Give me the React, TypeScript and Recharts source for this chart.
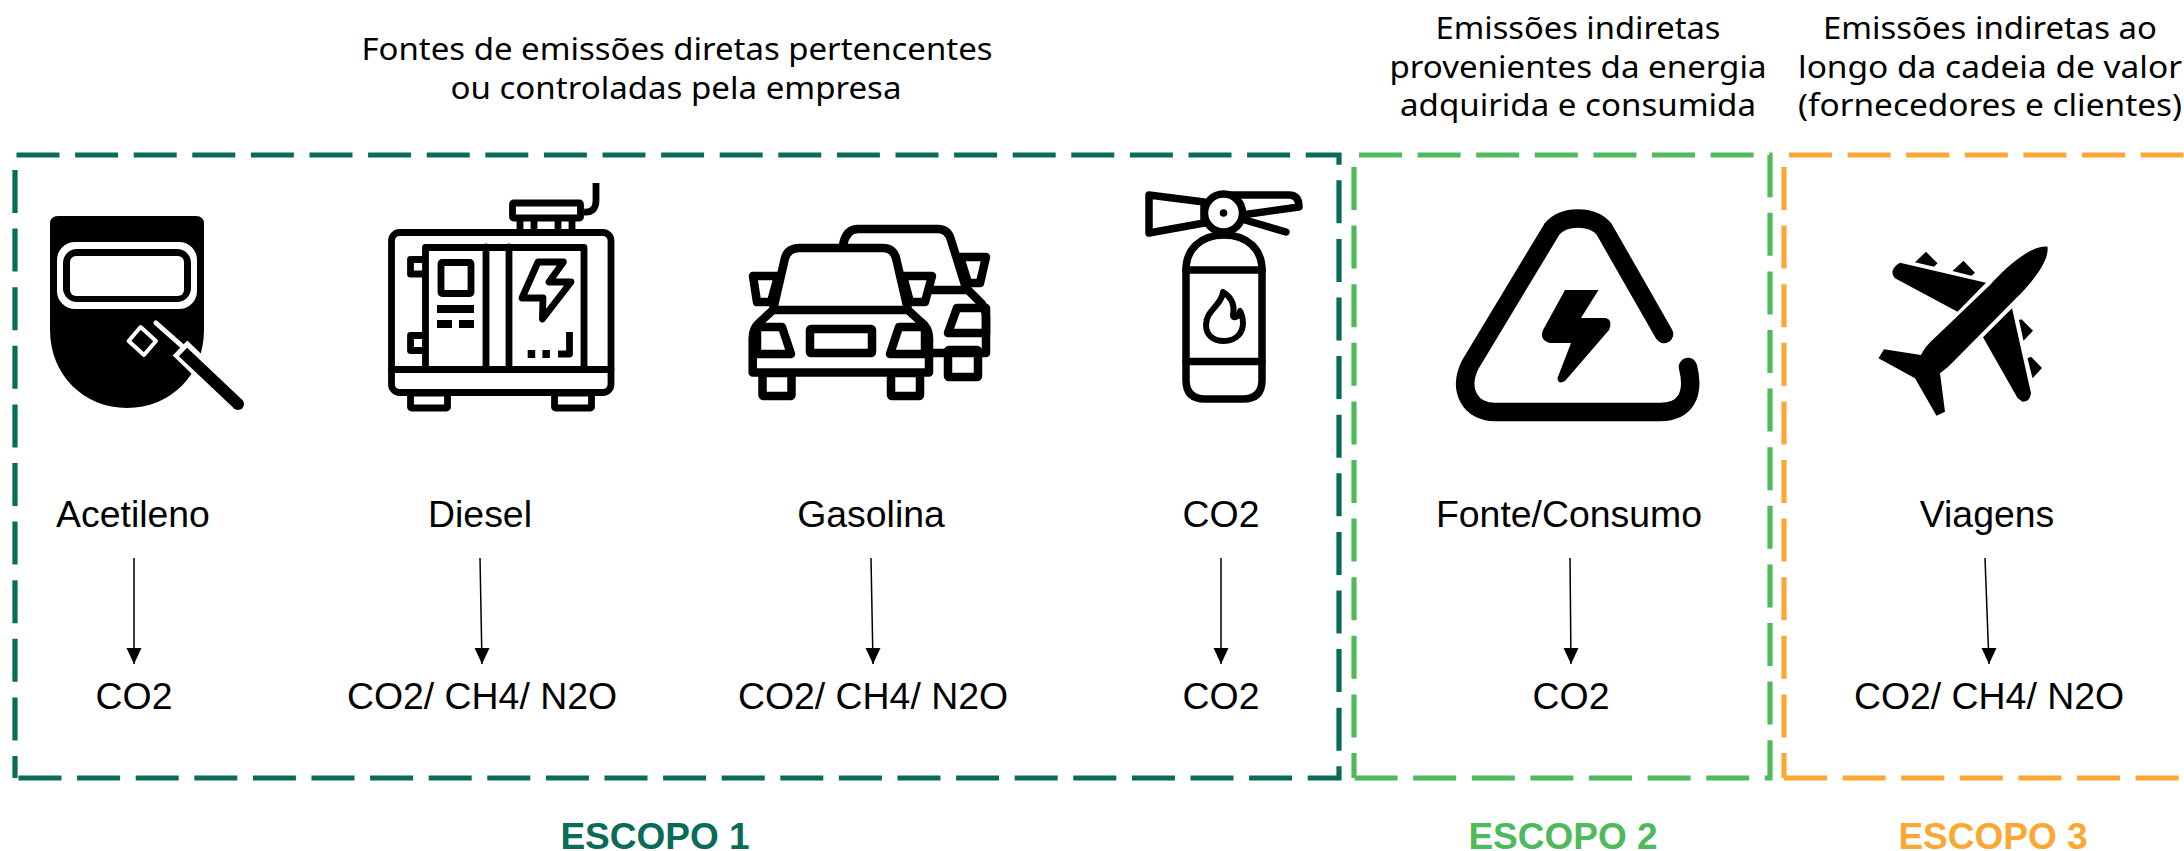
import React from "react";
import { ScatterChart, Scatter, XAxis, YAxis } from "recharts";

const W = 2184;
const H = 851;
const GREEN_DARK = "#0A6B58";
const GREEN = "#4FBA5C";
const ORANGE = "#FBA733";
const DASH = "43 15.6";

// categories
const sources = ["Acetileno", "Diesel", "Gasolina", "CO2", "Fonte/Consumo", "Viagens"];
const gases = ["CO2", "CO2/ CH4/ N2O", "CO2/ CH4/ N2O", "CO2", "CO2", "CO2/ CH4/ N2O"];
const scopes = ["ESCOPO 1", "ESCOPO 2", "ESCOPO 3"];
const scopeX = [655, 1563, 1993];
const sourceX = [133, 480, 871, 1221, 1569, 1987];
const gasX = [134, 482, 873, 1221, 1571, 1989];
const arrowStartX = [134, 480, 871, 1221, 1570, 1985];
const arrowEndX = [134, 482, 873, 1221, 1571, 1989];
const iconNames = ["mask", "generator", "cars", "extinguisher", "energy", "plane"];
const headingLines = [
  "Fontes de emissões diretas pertencentes",
  "ou controladas pela empresa",
  "Emissões indiretas",
  "provenientes da energia",
  "adquirida e consumida",
  "Emissões indiretas ao",
  "longo da cadeia de valor",
  "(fornecedores e clientes)",
];
const headingX = [677, 676, 1578, 1578, 1578, 1990, 1990, 1990];
const headingY = [60, 99, 39, 78, 116, 39, 78, 116];
const headingWidth = [631, 451, 285, 377, 356, 334, 384, 384];

const scope1Frame = [
  { x: 16.5, y: 155 }, { x: 1339, y: 155 }, { x: 1339, y: 778 }, { x: 15, y: 778 },
];
const scope1Left = [{ x: 15, y: 778 }, { x: 15, y: 155 }];
const scope2Frame = [
  { x: 1359, y: 155 }, { x: 1770, y: 155 }, { x: 1770, y: 778 }, { x: 1354, y: 778 },
];
const scope2Left = [{ x: 1354, y: 778 }, { x: 1354, y: 155 }];
const scope3Top = [{ x: 1789, y: 155 }, { x: 2184, y: 155 }];
const scope3Bottom = [{ x: 1784, y: 778 }, { x: 2184, y: 778 }];
const scope3Left = [{ x: 1784, y: 778 }, { x: 1784, y: 155 }];

const frames = [
  { data: scope1Frame, color: GREEN_DARK, offset: 0 },
  { data: scope1Left, color: GREEN_DARK, offset: 21 },
  { data: scope2Frame, color: GREEN, offset: 0 },
  { data: scope2Left, color: GREEN, offset: 18 },
  { data: scope3Top, color: ORANGE, offset: 0 },
  { data: scope3Bottom, color: ORANGE, offset: 0 },
  { data: scope3Left, color: ORANGE, offset: 18 },
];

const iconData = iconNames.map((icon, i) => ({ x: sourceX[i], y: 300, icon }));
const arrows = sources.map((_, i) => [
  { x: arrowStartX[i], y: 558, tip: false },
  { x: arrowEndX[i], y: 664, tip: true },
]);
const sourceText = sources.map((label, i) => ({ x: sourceX[i], y: 527, label, kind: "body", color: "#000" }));
const gasText = gases.map((label, i) => ({ x: gasX[i], y: 709, label, kind: "body", color: "#000" }));
const scopeColors = [GREEN_DARK, GREEN, ORANGE];
const scopeText = scopes.map((label, i) => ({ x: scopeX[i], y: 849, label, kind: "scope", color: scopeColors[i] }));
const headingText = headingLines.map((label, i) => ({
  x: headingX[i], y: headingY[i], label, kind: "heading", color: "#000", fit: headingWidth[i],
}));
const allText = [...sourceText, ...gasText, ...scopeText, ...headingText];

const S = { fill: "none", stroke: "#000", strokeLinejoin: "round" as const, strokeLinecap: "round" as const };

const MaskIcon = () => (
  <g>
    <path d="M50,224 Q50,216 58,216 H196 Q204,216 204,224 V330 C204,375 170,408 127,408 C84,408 50,375 50,330 Z" fill="#000" />
    <rect x={57} y={242} width={140} height={67} rx={18} fill="#fff" />
    <rect x={63} y={249} width={128} height={53} rx={14} fill="#000" />
    <rect x={70} y={256} width={114} height={40} rx={6} fill="#fff" />
    <polyline points="180,348 238,404" fill="none" stroke="#fff" strokeWidth={21} strokeLinecap="butt" />
    <polyline points="183,352 238,404" fill="none" stroke="#000" strokeWidth={12} strokeLinecap="butt" />
    <circle cx={238} cy={404} r={6} fill="#000" />
    <polyline points="156,323 182,346" fill="none" stroke="#fff" strokeWidth={5} strokeLinecap="round" />
    <polygon points="140.6,327 156,341 144,355 128.6,341" fill="none" stroke="#fff" strokeWidth={4} strokeLinejoin="round" />
  </g>
);

const GeneratorIcon = () => (
  <g {...S} strokeWidth={6.8}>
    <rect x={410.5} y={393} width={37} height={15} rx={1} />
    <rect x={554.5} y={393} width={37} height={15} rx={1} />
    <rect x={391.5} y={232.5} width={219.5} height={160} rx={8} />
    <line x1={391.5} y1={369.5} x2={611} y2={369.5} />
    <rect x={512.5} y={203} width={68} height={15} rx={1} />
    <line x1={520} y1={219} x2={520} y2={232} strokeLinecap="butt" />
    <line x1={534} y1={219} x2={534} y2={232} strokeLinecap="butt" />
    <line x1={558} y1={219} x2={558} y2={232} strokeLinecap="butt" />
    <line x1={572} y1={219} x2={572} y2={232} strokeLinecap="butt" />
    <path d="M584,212 Q596,213 596,200 V183" strokeLinecap="butt" />
    <path d="M425.5,369 V247.5 H584 V369" />
    <line x1={486} y1={247} x2={486} y2={369} />
    <line x1={509} y1={247} x2={509} y2={369} />
    <path d="M425,259.5 H410.5 V274 H425" />
    <path d="M425,335.5 H410.5 V350.5 H425" />
    <rect x={441} y={262.5} width={30} height={31} rx={1} />
    <rect x={437} y={305} width={37} height={8} fill="#000" stroke="none" />
    <rect x={437} y={320} width={15} height={8} fill="#000" stroke="none" />
    <rect x={459} y={320} width={15} height={8} fill="#000" stroke="none" />
    <polygon points="538,262 563.4,262 549,282 571,282 542.4,319 543,298 522,298" />
    <path d="M569.5,332 V354 H558" strokeLinecap="butt" />
    <rect x={527.7} y={350} width={7.5} height={8} fill="#000" stroke="none" />
    <rect x={542.4} y={350} width={7.5} height={8} fill="#000" stroke="none" />
  </g>
);

const CarsIcon = () => (
  <g {...S} strokeWidth={8.5}>
    <rect x={948} y={350} width={30} height={27} rx={1} />
    <path d="M843,245 Q846,229 858,229 H938 Q948,229 951,240 L966,288" />
    <polygon points="960,257 986,257 980,283 968,283" />
    <path d="M930,290 H968 L982,304 Q986,310 986,318 V353 H933" />
    <polygon points="957,308 986,308 986,333 948,333" />
    <g fill="#fff">
      <rect x={762.5} y={373} width={29} height={23} rx={1} />
      <rect x={891} y={373} width={29} height={23} rx={1} />
      <polygon points="753,276 778,276 771,302 757,302" />
      <polygon points="932,276 903,276 910,302 925,302" />
      <path d="M773,310 L760,322 Q752.7,328 752.7,338 V372.5 H929 V338 Q929,328 921,322 L908,310" />
      <path d="M773,310 L785,258 Q788,248 800,248 H883 Q893,248 896,258 L908,310 Z" />
      <polygon points="757,327 782,327 791,354 757,354" />
      <polygon points="925,327 899,327 890,354 925,354" />
      <rect x={810} y={329} width={62} height={24} rx={1} />
    </g>
  </g>
);

const ExtinguisherIcon = () => (
  <g {...S} strokeWidth={7.5}>
    <polygon points="1149,195 1204,202 1204,223 1149,233" />
    <path d="M1222,195 H1289 Q1299,195 1299,207 L1242,215" />
    <line x1={1245} y1={220} x2={1286} y2={232} />
    <path d="M1186,270 C1186,250 1200,235 1224,235 C1248,235 1262,250 1262,270 V380 Q1262,399 1243,399 H1205 Q1186,399 1186,380 Z" />
    <line x1={1186} y1={270} x2={1262} y2={270} />
    <line x1={1186} y1={361.5} x2={1262} y2={361.5} />
    <ellipse cx={1223.5} cy={213} rx={19} ry={19} fill="#fff" />
    <circle cx={1223.5} cy={213} r={3.8} fill="#000" stroke="none" />
    <path strokeWidth={6} d="M1223,292 C1222,305 1206,310 1206,325 C1206,335 1213,341 1224,341 C1236,341 1243,333 1243,323 C1243,318 1241,312 1240,311 C1240,316 1233,320 1233,315 C1235,305 1231,297 1223,292 Z" />
  </g>
);

const EnergyIcon = () => (
  <g>
    <path
      d="M1664,334 L1604,229 C1592,215 1564,215 1552,229 L1470,365 C1458,390 1470,412 1495,412 H1660 C1685,412 1695,395 1688,367"
      fill="none" stroke="#000" strokeWidth={18.5} strokeLinecap="round" strokeLinejoin="round"
    />
    <path d="M1565,290 H1598.5 L1581,318 H1606 Q1613,320 1609,330 L1565,381 Q1558,385 1557.5,378 L1571,343 H1550 Q1539,340 1543,330 Z" fill="#000" />
  </g>
);

const PlaneIcon = () => (
  <g fill="#000">
    <path d="M2047.5,246.7 C2050,263.3 2025,290 2012.5,301.7 L1955,360 Q1947.5,368.3 1940,373.3 L1945,411.7 L1936.5,415.7 L1915,378.3 L1878.5,358.3 L1884,349.3 L1921,355 Q1925,346.7 1932.5,340 L1990,285 C2005,268.3 2030,245 2047.5,246.7 Z" />
    <path d="M1900,262.7 L1986,282.7 L1957.5,311.7 L1895,278.3 Q1888,270 1900,262.7 Z" />
    <path d="M2012,308.3 L2031,393.3 Q2030,401.7 2022.5,401.7 L2017.5,398 L1983,337.3 Z" />
    <polygon points="1915,262.3 1926,251.7 1937.5,263.3 1934,266.7" />
    <polygon points="1952.5,271 1963.5,260.7 1975,272.7 1971.5,275.7" />
    <polygon points="2019,320 2021.5,319.3 2033,330.7 2023.5,340.7" />
    <polygon points="2027.5,358.3 2031,356.7 2042,368 2032.5,378.3" />
  </g>
);

const iconArt: Record<string, { Art: () => React.ReactElement; ax: number }> = {
  mask: { Art: MaskIcon, ax: 133 },
  generator: { Art: GeneratorIcon, ax: 480 },
  cars: { Art: CarsIcon, ax: 871 },
  extinguisher: { Art: ExtinguisherIcon, ax: 1221 },
  energy: { Art: EnergyIcon, ax: 1569 },
  plane: { Art: PlaneIcon, ax: 1987 },
};

const IconShape = (p: any) => {
  const { Art, ax } = iconArt[p.payload.icon];
  return (
    <g transform={`translate(${p.cx - ax},${p.cy - 300})`}>
      <Art />
    </g>
  );
};

const fontFor: Record<string, any> = {
  body: { fontFamily: "'Liberation Sans', Arial, sans-serif", fontSize: 37.4 },
  scope: { fontFamily: "'Liberation Sans', Arial, sans-serif", fontSize: 37, fontWeight: 700 },
  heading: { fontFamily: "'Noto Sans', sans-serif", fontSize: 30 },
};

const TextShape = (p: any) => {
  const d = p.payload;
  return (
    <text
      x={p.cx}
      y={p.cy}
      textAnchor="middle"
      fill={d.color}
      {...fontFor[d.kind]}
      {...(d.fit ? { textLength: d.fit, lengthAdjust: "spacingAndGlyphs" } : {})}
    >
      {d.label}
    </text>
  );
};

const ArrowShape = (p: any) =>
  p.payload.tip ? <polygon points={`${p.cx - 7.5},${p.cy - 16} ${p.cx + 7.5},${p.cy - 16} ${p.cx},${p.cy}`} fill="#000" /> : <g />;

const Nothing = () => <g />;

export default function App() {
  return (
    <div style={{ position: "absolute", left: 0, top: 0, width: W, height: H, background: "#fff", overflow: "hidden" }}>
      <ScatterChart width={W} height={H} margin={{ top: 0, right: 0, bottom: 0, left: 0 }}>
        <XAxis type="number" dataKey="x" domain={[0, W]} hide />
        <YAxis type="number" dataKey="y" domain={[0, H]} reversed hide />
        {frames.map((f, i) => (
          <Scatter
            key={`frame${i}`}
            data={f.data}
            isAnimationActive={false}
            shape={Nothing}
            line={{ stroke: f.color, strokeWidth: 5.2, strokeDasharray: DASH, strokeDashoffset: f.offset, fill: "none" }}
            stroke={f.color}
          />
        ))}
        <Scatter data={iconData} isAnimationActive={false} shape={IconShape} />
        {arrows.map((a, i) => (
          <Scatter
            key={`arrow${i}`}
            data={a}
            isAnimationActive={false}
            shape={ArrowShape}
            line={{ stroke: "#000", strokeWidth: 1.5 }}
          />
        ))}
        <Scatter data={allText} isAnimationActive={false} shape={TextShape} />
      </ScatterChart>
    </div>
  );
}
